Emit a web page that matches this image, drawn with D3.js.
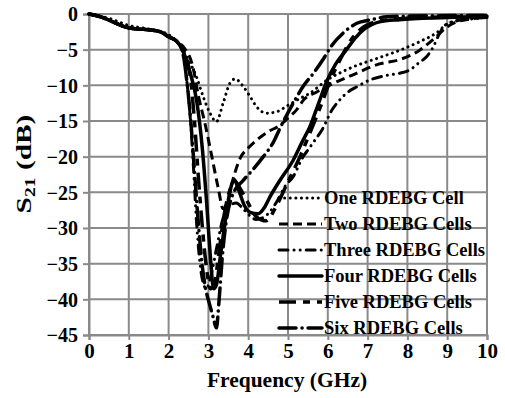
<!DOCTYPE html>
<html><head><meta charset="utf-8">
<script src="https://cdn.jsdelivr.net/npm/d3@7"></script>
<style>body{margin:0;background:#fff}svg{display:block}</style>
</head><body><svg id="c" width="505" height="398"></svg>
<script>
const xTicks = [0,1,2,3,4,5,6,7,8,9,10];
const yTicks = [0,-5,-10,-15,-20,-25,-30,-35,-40,-45];
const seriesNames = ["One RDEBG Cell","Two RDEBG Cells","Three RDEBG Cells","Four RDEBG Cells","Five RDEBG Cells","Six RDEBG Cells"];
const common = [[0,0],[0.3,-0.4],[0.6,-1.1],[0.9,-1.8],[1.2,-2.1],[1.5,-2.2],[1.8,-2.5],[2.0,-3.2]];
const one = [[0,0],[0.5,-0.6],[1.0,-1.6],[1.5,-2.1],[2.0,-2.9],[2.25,-4.2],[2.45,-6],[2.7,-8.8],[2.87,-11.6],[3.05,-14],[3.2,-15.1],[3.37,-12.5],[3.54,-9.7],[3.67,-9.1],[3.88,-10.2],[4.05,-11.6],[4.21,-13],[4.46,-13.9],[4.72,-13.7],[4.97,-12.9],[5.25,-12],[5.55,-11.1],[5.97,-9.3],[6.56,-7.6],[7.3,-6.1],[7.8,-5.1],[8.3,-3.9],[8.74,-2.6],[9.0,-1.4],[9.5,-0.7],[10,-0.4]];
const two = [[2.2,-3.8],[2.4,-4.8],[2.6,-7.2],[2.75,-11.5],[2.9,-15],[3.08,-19.8],[3.25,-24.5],[3.37,-27.3],[3.47,-26.5],[3.58,-24],[3.67,-22.2],[3.8,-20.2],[4.0,-18.8],[4.25,-17.5],[4.5,-16.5],[4.8,-15.6],[5.0,-14.6],[5.22,-13.4],[5.4,-12],[5.7,-11],[6.0,-10.1],[6.6,-8.6],[7.3,-7],[7.8,-6.4],[8.3,-5.1],[8.7,-3.3],[9.0,-1.8],[9.3,-1.0],[10,-0.5]];
const three = [[2.2,-3.8],[2.35,-5.5],[2.45,-9],[2.55,-15],[2.62,-21],[2.7,-29],[2.79,-35],[2.86,-37.5],[2.95,-38.5],[3.05,-37],[3.2,-33],[3.35,-29],[3.5,-27],[3.7,-26.5],[3.9,-27.5],[4.2,-28.8],[4.5,-28],[4.75,-26],[4.92,-24.2],[5.13,-22.8],[5.38,-20],[5.51,-19],[5.7,-17.5],[5.85,-16.3],[6.1,-13.5],[6.26,-12.3],[6.47,-11.1],[6.73,-10.2],[7.06,-9.25],[7.48,-8.6],[7.81,-8.3],[8.07,-7.8],[8.3,-6.8],[8.48,-6],[8.65,-4.6],[8.8,-2.8],[8.94,-1.6],[9.2,-1],[9.6,-0.7],[10,-0.5]];
const four = [[2.2,-3.8],[2.35,-5],[2.5,-7.5],[2.7,-12],[2.85,-19],[2.95,-26],[3.05,-34],[3.13,-38.5],[3.2,-38],[3.3,-34],[3.45,-28],[3.58,-24],[3.65,-23.2],[3.75,-24.5],[3.9,-26.8],[4.05,-27.8],[4.25,-28],[4.4,-27.2],[4.55,-25.6],[4.8,-23.3],[5.13,-20.5],[5.35,-18],[5.55,-15.8],[5.75,-12.8],[5.97,-9.5],[6.2,-7],[6.47,-5],[6.7,-3.3],[6.9,-2.2],[7.1,-1.5],[7.3,-1.1],[7.8,-0.8],[9,-0.5],[10,-0.3]];
const five = [[2.2,-3.8],[2.4,-5.5],[2.55,-9],[2.65,-15],[2.75,-23],[2.85,-30],[2.95,-35.5],[3.05,-38.5],[3.15,-38],[3.25,-34],[3.4,-28],[3.55,-24.5],[3.68,-23.5],[3.8,-24.5],[4.0,-26.5],[4.2,-28.4],[4.45,-29],[4.7,-27],[5.0,-23.5],[5.3,-20],[5.6,-16],[5.85,-12.5],[6.05,-9.5],[6.3,-6.5],[6.6,-3.5],[6.9,-1.8],[7.3,-1],[8,-0.6],[10,-0.3]];
const six = [[2.2,-3.8],[2.35,-5.2],[2.45,-9],[2.55,-14.5],[2.65,-22],[2.75,-29.5],[2.84,-35],[2.93,-38.5],[3.02,-40.5],[3.12,-42.5],[3.2,-44],[3.27,-40],[3.35,-34],[3.45,-29],[3.6,-25.5],[3.88,-23.3],[4.09,-22],[4.38,-20],[4.63,-18],[4.8,-16],[5.1,-12.8],[5.4,-10],[5.64,-8.3],[5.9,-6.2],[6.1,-4.4],[6.4,-2.6],[6.73,-1.3],[7.06,-0.84],[7.48,-0.4],[8,-0.3],[10,-0.2]];

const FONT = '"Liberation Serif","Times New Roman",Times,serif';
const svg = d3.select("#c").style("font-family", FONT);
const L = 89, R = 487, T = 14, B = 335;
const x = d3.scaleLinear().domain([0,10]).range([L,R]);
const y = d3.scaleLinear().domain([-45,0]).range([B,T]);
const grid = "#8a8a8a";

svg.append("g").selectAll("line").data(xTicks).join("line")
  .attr("x1", d=>x(d)).attr("x2", d=>x(d)).attr("y1", T).attr("y2", B)
  .attr("stroke", grid).attr("stroke-width", 2);
svg.append("g").selectAll("line").data(yTicks).join("line")
  .attr("y1", d=>y(d)).attr("y2", d=>y(d)).attr("x1", L).attr("x2", R)
  .attr("stroke", grid).attr("stroke-width", 2);

const xAxis = svg.append("g").attr("transform", `translate(0,${B})`)
  .call(d3.axisBottom(x).tickValues(xTicks).tickFormat(d3.format("d")).tickSize(5).tickPadding(3));
const yAxis = svg.append("g").attr("transform", `translate(${L},0)`)
  .call(d3.axisLeft(y).tickValues(yTicks).tickFormat(d3.format("d")).tickSize(6).tickPadding(5));
[xAxis,yAxis].forEach(a=>{
  a.attr("font-family", null).attr("font-size", null);
  a.select(".domain").attr("stroke", grid).attr("stroke-width", 2);
  a.selectAll(".tick line").attr("stroke", grid).attr("stroke-width", 2);
  a.selectAll("text").style("font-family", FONT).style("font-weight","bold").attr("fill","#000");
});
xAxis.selectAll("text").style("font-size","21px");
yAxis.selectAll("text").style("font-size","20px").attr("dy","0.34em");

const withCommon = s => common.filter(p=>p[0] < s[0][0]).concat(s);
const datas = [one, withCommon(two), withCommon(three), withCommon(four), withCommon(five), withCommon(six)];
const styles = [
  {w:3, dash:"0.1 5.5", cap:"round"},
  {w:3, dash:"9 5", cap:"butt"},
  {w:3, dash:"9 6 0.1 6 0.1 6", cap:"round"},
  {w:3.5, dash:null, cap:"round"},
  {w:3.5, dash:"17 7 7 7", cap:"butt"},
  {w:3.5, dash:"17 6 0.1 6", cap:"round"}
];
const line = d3.line().x(d=>x(d[0])).y(d=>y(d[1])).curve(d3.curveMonotoneX);
svg.append("g").selectAll("path").data(datas).join("path")
  .attr("d", line).attr("fill","none").attr("stroke","#000")
  .attr("stroke-width", (d,i)=>styles[i].w)
  .attr("stroke-dasharray", (d,i)=>styles[i].dash)
  .attr("stroke-linecap", (d,i)=>styles[i].cap)
  .attr("stroke-linejoin","round");

const lg = svg.append("g");
const legY = [198,224,250,276,302,328];
seriesNames.forEach((n,i)=>{
  const g = lg.append("g").attr("transform",`translate(0,${legY[i]})`);
  g.append("line").attr("x1",279).attr("x2",322).attr("y1",0).attr("y2",0)
    .attr("stroke","#000").attr("stroke-width",styles[i].w)
    .attr("stroke-dasharray",styles[i].dash).attr("stroke-linecap",styles[i].cap);
  g.append("text").attr("x",324).attr("y",0).attr("dy","0.35em")
    .style("font-family",FONT).style("font-weight","bold").style("font-size","18.5px").text(n);
});

svg.append("text").attr("x", 287).attr("y", 387).attr("text-anchor","middle")
  .style("font-family",FONT).style("font-weight","bold").style("font-size","21.5px").text("Frequency (GHz)");
const yt = svg.append("text").attr("transform","translate(31,164) rotate(-90) scale(1.4,1)").attr("text-anchor","middle")
  .style("font-family",FONT).style("font-weight","bold").style("font-size","21px");
yt.append("tspan").text("S");
yt.append("tspan").attr("dy","4").style("font-size","14px").text("21");
yt.append("tspan").attr("dy","-4").text(" (dB)");
</script></body></html>
